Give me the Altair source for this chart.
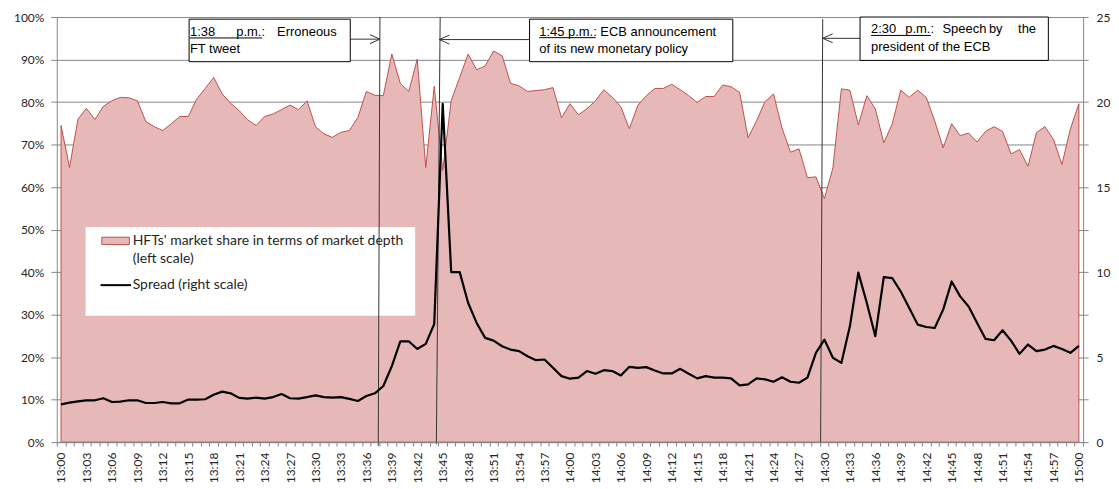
import altair as alt
import pandas as pd

# ---------------- data ----------------
minutes = list(range(121))  # 13:00 ... 15:00, one point per minute

hft_share = [
    74.5, 64.6, 76.0, 78.5, 75.9, 79.0, 80.3, 81.1, 81.0, 80.3,
    75.4, 74.2, 73.3, 74.9, 76.6, 76.6, 80.7, 83.2, 85.8, 81.9,
    79.7, 78.0, 75.8, 74.5, 76.6, 77.2, 78.2, 79.3, 78.2, 80.3,
    74.2, 72.5, 71.7, 72.9, 73.3, 76.4, 82.5, 81.6, 81.5, 91.3,
    84.4, 82.5, 90.1, 64.6, 83.7, 63.9, 80.3, 85.8, 91.3, 87.6,
    88.5, 92.0, 90.9, 84.4, 83.8, 82.5, 82.7, 82.9, 83.4, 76.3,
    79.6, 77.0, 78.4, 80.3, 82.9, 81.1, 78.9, 73.7, 79.2, 81.5,
    83.2, 83.2, 84.2, 82.9, 81.5, 79.9, 81.3, 81.3, 84.0, 83.6,
    82.3, 71.6, 75.6, 80.1, 81.9, 73.9, 68.2, 69.0, 62.2, 62.4,
    57.3, 64.5, 83.1, 82.8, 74.6, 81.5, 78.4, 70.4, 74.9, 82.8,
    81.1, 82.8, 81.1, 75.6, 69.2, 74.9, 72.1, 72.7, 70.6, 73.1,
    74.2, 73.1, 67.8, 68.8, 64.9, 72.8, 74.2, 71.2, 65.3, 73.7,
    79.6,
]

spread = [
    2.22, 2.32, 2.40, 2.46, 2.46, 2.58, 2.36, 2.38, 2.46, 2.46,
    2.30, 2.30, 2.36, 2.28, 2.28, 2.50, 2.50, 2.52, 2.79, 2.97,
    2.87, 2.60, 2.56, 2.62, 2.56, 2.65, 2.83, 2.58, 2.56, 2.65,
    2.75, 2.65, 2.62, 2.65, 2.54, 2.42, 2.71, 2.87, 3.30, 4.47,
    5.93, 5.93, 5.48, 5.78, 6.95, 19.9, 10.0, 10.0, 8.18, 7.01,
    6.13, 5.97, 5.64, 5.44, 5.35, 5.05, 4.82, 4.86, 4.37, 3.88,
    3.73, 3.79, 4.18, 4.02, 4.23, 4.18, 3.92, 4.43, 4.37, 4.41,
    4.21, 4.04, 4.04, 4.31, 4.02, 3.75, 3.88, 3.79, 3.79, 3.75,
    3.34, 3.40, 3.75, 3.69, 3.55, 3.81, 3.55, 3.49, 3.79, 5.25,
    6.03, 4.96, 4.66, 6.81, 9.97, 8.18, 6.23, 9.70, 9.64, 8.86,
    7.89, 6.91, 6.77, 6.71, 7.79, 9.45, 8.57, 7.98, 7.01, 6.07,
    5.99, 6.58, 5.97, 5.19, 5.74, 5.35, 5.44, 5.66, 5.48, 5.25,
    5.66,
]

tick_labels = [f"{13 + m // 60}:{m % 60:02d}" for m in range(0, 121, 3)]
pct_ticks = list(range(0, 101, 10))
spread_ticks = [i * 2.5 for i in range(11)]

legend_labels = ["HFTs' market share in terms of market depth", "(left scale)", "Spread (right scale)"]

df = pd.DataFrame({"minute": minutes, "share": hft_share, "spread": spread})

# ---------------- styles ----------------
FILL = "#E6B9B8"
EDGE = "#C0504D"
GREY = "#868686"
TXT = "#262626"
FONT = "Lato"
AFONT = "Liberation Sans"

x_scale = alt.Scale(domain=[-0.5, 120.5], nice=False, zero=False)
y_scale = alt.Scale(domain=[0, 100], nice=False, zero=False)
r_scale = alt.Scale(domain=[0, 25], nice=False, zero=False)

label_js = "[" + ",".join(f"'{t}'" for t in tick_labels) + "]"
x_values = [k - 0.5 for k in range(122)] + list(range(0, 121, 3))

x_axis = alt.Axis(
    values=x_values,
    labelExpr=f"datum.value % 3 === 0 ? {label_js}[datum.value / 3] : ''",
    labelAngle=270, labelAlign="right", labelBaseline="middle",
    labelOverlap=False, labelFlush=False, labelBound=False,
    tickSize=4, labelPadding=6,
    tickOpacity={"condition": {"test": "datum.value % 1 === 0", "value": 0}, "value": 1},
    domainColor=GREY, tickColor=GREY, labelColor=TXT,
    labelFont=FONT, labelFontSize=12, grid=False, title=None, zindex=1,
)
y_axis = alt.Axis(
    values=pct_ticks, labelExpr="datum.value + '%'",
    tickSize=6, labelPadding=7, grid=True, gridColor=GREY, gridWidth=1,
    domainColor=GREY, tickColor=GREY, labelColor=TXT,
    labelFont=FONT, labelFontSize=12, title=None,
)
r_axis = alt.Axis(
    orient="right", values=spread_ticks,
    labelExpr="datum.value % 5 === 0 ? '' + datum.value : ''",
    tickSize=5, labelPadding=8, grid=False,
    domainColor=GREY, tickColor=GREY, labelColor=TXT,
    labelFont=FONT, labelFontSize=12, title=None,
)


def X(f):
    return alt.X(f, type="quantitative", scale=x_scale, axis=x_axis)


def Y(f):
    return alt.Y(f, type="quantitative", scale=y_scale, axis=y_axis)


# ---------------- layers ----------------
area = alt.Chart(df).mark_area(fill=FILL, stroke=EDGE, strokeWidth=1).encode(
    x=X("minute"), y=Y("share"),
)

legend_box = alt.Chart(pd.DataFrame({"x": [2.9], "x2": [41.75], "y": [50.6], "y2": [29.7]})).mark_rect(
    fill="white").encode(x=X("x"), x2="x2", y=Y("y"), y2="y2")
legend_swatch = alt.Chart(pd.DataFrame({"x": [4.81], "x2": [8.06], "y": [48.2], "y2": [46.5]})).mark_rect(
    fill=FILL, stroke=EDGE, strokeWidth=1).encode(x=X("x"), x2="x2", y=Y("y"), y2="y2")
legend_line = alt.Chart(pd.DataFrame({"x": [4.66], "x2": [8.26], "y": [36.93]})).mark_rule(
    color="black", strokeWidth=2).encode(x=X("x"), x2="x2", y=Y("y"))
legend_text = alt.Chart(pd.DataFrame({"x": [8.45, 8.45, 8.45], "y": [46.4, 42.25, 36.1],
                                      "t": legend_labels})).mark_text(
    align="left", baseline="alphabetic", font=FONT, fontSize=14, color=TXT).encode(
    x=X("x"), y=Y("y"), text="t:N")

events = alt.Chart(pd.DataFrame({"xt": [37.6, 44.7, 89.8], "xb": [37.4, 44.25, 89.55],
                                 "yt": [100, 100, 99.5], "yb": [-0.9, -0.5, 0]})).mark_rule(
    color="#333333", strokeWidth=1).encode(x=X("xt"), x2="xb", y=Y("yt"), y2="yb")

arrows = alt.Chart(pd.DataFrame({"x": [34.1, 55.24, 94.2], "x2": [37.6, 44.6, 89.8],
                                 "y": [94.8, 94.7, 95.0]})).mark_rule(
    color="#333333", strokeWidth=1).encode(x=X("x"), x2="x2", y=Y("y"))
heads = alt.Chart(pd.DataFrame({"x": [37.6, 44.6, 89.8], "y": [94.8, 94.7, 95.0],
                                "a": [0, 180, 180]})).mark_point(
    shape="M -1 -0.45 L 0 0 L -1 0.45", size=400, filled=False, color="#333333",
    strokeWidth=1, opacity=1).encode(x=X("x"), y=Y("y"), angle=alt.Angle("a:Q", scale=None))

boxes = alt.Chart(pd.DataFrame({"x": [15.1, 55.24, 94.2], "x2": [34.1, 79.2, 116.4],
                                "y": [99.5, 99.5, 100.0], "y2": [89.5, 89.5, 89.8]})).mark_rect(
    fill="white", stroke="black", strokeWidth=1).encode(x=X("x"), x2="x2", y=Y("y"), y2="y2")

box_text = alt.Chart(pd.DataFrame({
    "x": [15.2, 20.66, 25.47, 15.2,
          56.38, 56.38,
          95.5, 99.53, 103.92, 109.39, 112.83, 95.5],
    "y": [95.55, 95.55, 95.55, 91.45,
          95.55, 91.5,
          96.18, 96.18, 96.18, 96.18, 96.18, 92.04],
    "t": ["1:38", "p.m.:", "Erroneous", "FT tweet",
          "1:45 p.m.: ECB announcement", "of its new monetary policy",
          "2:30", "p.m.:", "Speech", "by", "the", "president of the ECB"],
})).mark_text(align="left", baseline="alphabetic", font=AFONT, fontSize=13, color="black").encode(
    x=X("x"), y=Y("y"), text="t:N")

underlines = alt.Chart(pd.DataFrame({"x": [15.19, 56.38, 95.5], "x2": [23.71, 63.03, 102.54],
                                     "y": [95.08, 95.15, 95.67]})).mark_rule(
    color="black", strokeWidth=1).encode(x=X("x"), x2="x2", y=Y("y"))

left = alt.layer(area, legend_box, legend_swatch, legend_line, legend_text,
                 events, arrows, heads, boxes, box_text, underlines)

spread_line = alt.Chart(df).mark_line(color="black", strokeWidth=2.2, strokeJoin="round").encode(
    x=X("minute"),
    y=alt.Y("spread:Q", scale=r_scale, axis=r_axis),
)

chart = alt.layer(left, spread_line).resolve_scale(y="independent").properties(
    width=1031, height=427,
    autosize=alt.AutoSizeParams(type="none"),
    padding={"left": 49, "top": 8, "right": 28, "bottom": 44},
    background="white",
).configure_view(strokeWidth=0)

chart.save("out.html", embed_options={"renderer": "svg", "actions": False})
